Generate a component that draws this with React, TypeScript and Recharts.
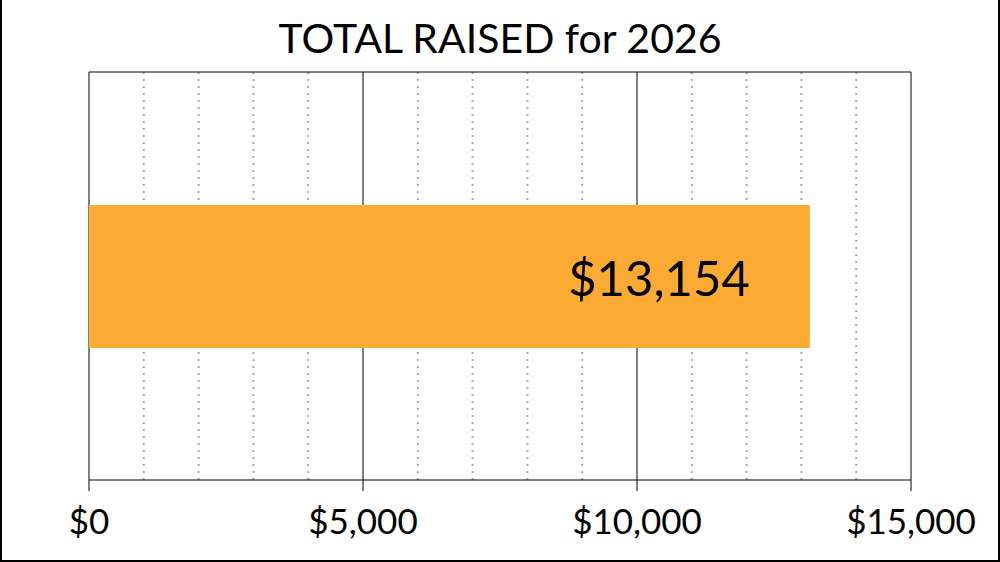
import { Bar, BarChart, CartesianGrid, LabelList, XAxis, YAxis } from "recharts";

const categories = ["2026"];
const totals = [13154];
const majorTicks = [0, 5000, 10000, 15000];
const minorTicks = [1000, 2000, 3000, 4000, 6000, 7000, 8000, 9000, 11000, 12000, 13000, 14000];
const axisMax = 15000;

const data = categories.map((name, i) => ({ name, total: totals[i] }));

const font = "Lato, 'Open Sans', sans-serif";

const formatDollars = (value: number) => `$${value.toLocaleString("en-US")}`;

// dotted minor lines, positioned through the x axis scale
const minorLines = ({ xAxis, offset }: any) => {
  const scale = xAxis?.scale;
  try {
    if (typeof scale === "function") return minorTicks.map((t) => scale(t));
    if (scale && typeof scale.map === "function") return minorTicks.map((t) => scale.map(t));
  } catch (e) {
    // fall through
  }
  if (!offset) return [];
  return minorTicks.map((t) => offset.left + (t / axisMax) * offset.width);
};

function ValueLabel(props: any) {
  const { x, y, width, height, value } = props;
  return (
    <text
      x={x + width - 60}
      y={y + height / 2}
      textAnchor="end"
      dominantBaseline="central"
      fontSize={49}
      fontFamily={font}
      fill="#000"
    >
      {formatDollars(Number(value))}
    </text>
  );
}

export default function App() {
  return (
    <div style={{ position: "absolute", left: 0, top: 0, width: 1000, height: 562, background: "#fff" }}>
      <div
        style={{
          position: "absolute",
          left: 0,
          top: 12,
          width: 1000,
          textAlign: "center",
          fontFamily: font,
          fontSize: 41,
          lineHeight: "52px",
          color: "#000",
        }}
      >
        TOTAL RAISED for 2026
      </div>
      <BarChart
        width={1000}
        height={562}
        data={data}
        layout="vertical"
        margin={{ top: 71, right: 89, bottom: 0, left: 89 }}
        barSize={143}
      >
        <CartesianGrid
          xAxisId="main"
          horizontal={false}
          verticalCoordinatesGenerator={minorLines}
          stroke="#aaaaaa"
          strokeWidth={2}
          strokeDasharray="2 5"
        />
        <CartesianGrid xAxisId="main" horizontal={false} stroke="#000" strokeWidth={1} />
        <XAxis
          xAxisId="top"
          orientation="top"
          type="number"
          domain={[0, axisMax]}
          height={1}
          tick={false}
          tickLine={false}
          stroke="#000"
        />
        <XAxis
          xAxisId="main"
          type="number"
          domain={[0, axisMax]}
          ticks={majorTicks}
          tickFormatter={formatDollars}
          height={82}
          tickSize={11}
          tickMargin={18}
          stroke="#000"
          tick={{ fill: "#000", fontSize: 35, fontFamily: font }}
          interval={0}
        />
        <YAxis type="category" dataKey="name" width={0} tick={false} tickLine={false} stroke="#000" />
        <Bar xAxisId="main" dataKey="total" fill="#fbaa33" isAnimationActive={false}>
          <LabelList dataKey="total" content={ValueLabel} />
        </Bar>
      </BarChart>
      <div
        style={{
          position: "absolute",
          left: 0,
          top: 0,
          width: 1000,
          height: 562,
          boxSizing: "border-box",
          borderLeft: "2px solid #000",
          borderRight: "2px solid #000",
          borderBottom: "2px solid #000",
          pointerEvents: "none",
        }}
      />
    </div>
  );
}
